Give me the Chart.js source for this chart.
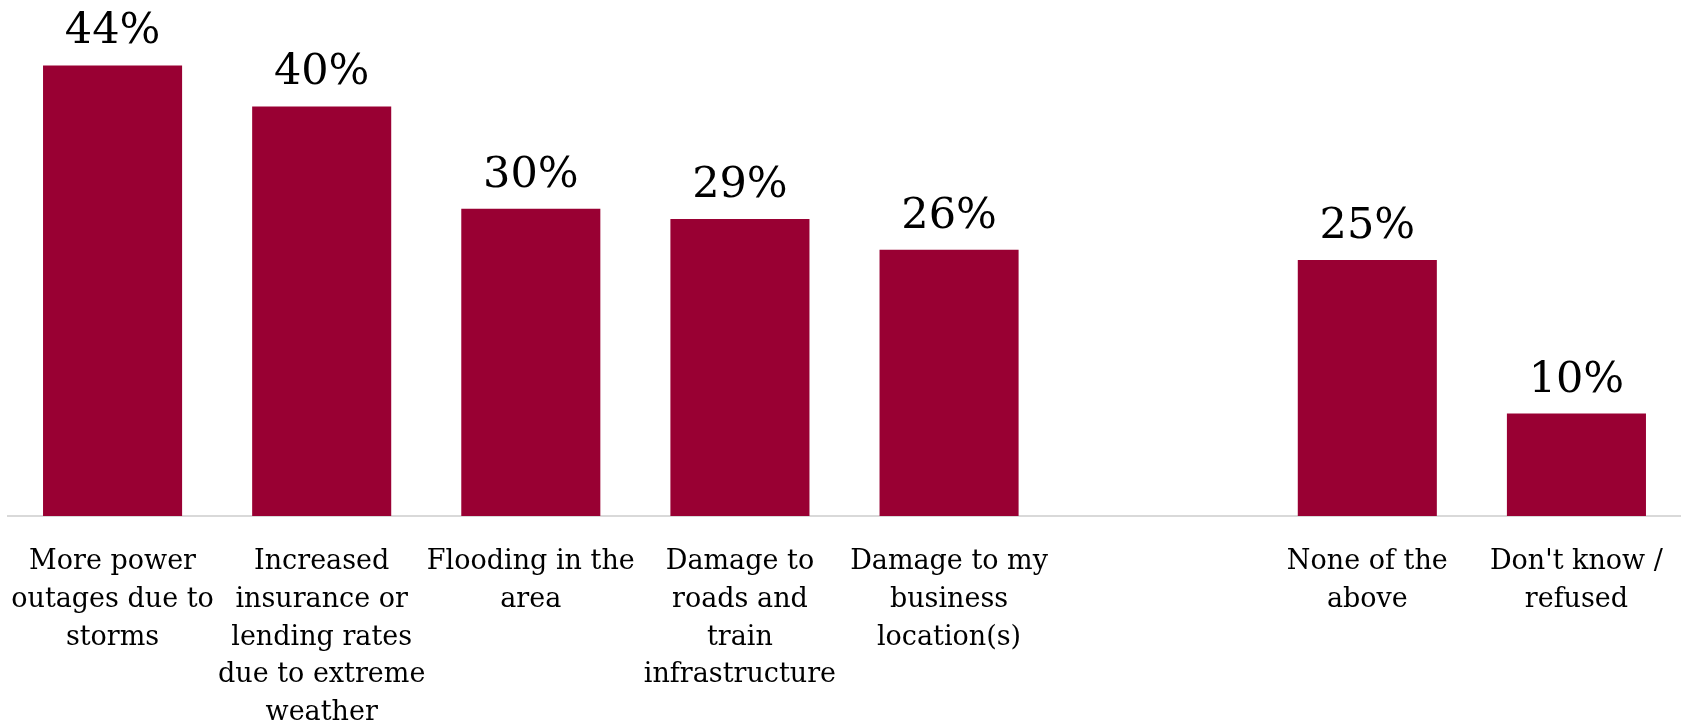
<!DOCTYPE html>
<html>
<head>
<meta charset="utf-8">
<script src="https://cdn.jsdelivr.net/npm/chart.js@4/dist/chart.umd.min.js"></script>
<style>
  html, body { margin: 0; padding: 0; background: #fff; }
  #wrap { width: 1681px; height: 721px; }
</style>
</head>
<body>
<div id="wrap"><canvas id="chart"></canvas></div>
<script>
// one empty slot separates the last two answers from the rest
const categories = [
  ['More power', 'outages due to', 'storms'],
  ['Increased', 'insurance or', 'lending rates', 'due to extreme', 'weather'],
  ['Flooding in the', 'area'],
  ['Damage to', 'roads and', 'train', 'infrastructure'],
  ['Damage to my', 'business', 'location(s)'],
  '',
  ['None of the', 'above'],
  ["Don't know /", 'refused']
];
const shares = [44, 40, 30, 29, 26, null, 25, 10];

const barColor = '#990033';
const serif = '"DejaVu Serif", "Liberation Serif", serif';

// prints the percentage above each bar
const valueLabels = {
  id: 'valueLabels',
  afterDatasetsDraw(chart) {
    const ctx = chart.ctx;
    const meta = chart.getDatasetMeta(0);
    ctx.save();
    ctx.font = '43px ' + serif;
    ctx.fillStyle = '#000';
    ctx.textAlign = 'center';
    ctx.textBaseline = 'alphabetic';
    meta.data.forEach((bar, i) => {
      const v = shares[i];
      if (v == null) return;
      ctx.fillText(v + '%', bar.x, bar.y - 22);
    });
    ctx.restore();
  }
};

new Chart(document.getElementById('chart'), {
  type: 'bar',
  data: {
    labels: categories,
    datasets: [{
      data: shares,
      backgroundColor: barColor,
      borderWidth: 0,
      categoryPercentage: 1,
      barPercentage: 0.665
    }]
  },
  options: {
    responsive: true,
    maintainAspectRatio: false,
    animation: false,
    layout: { padding: { left: 8, right: 0, top: 4, bottom: 0 } },
    plugins: {
      legend: { display: false },
      tooltip: { enabled: false }
    },
    scales: {
      x: {
        grid: { display: false, drawTicks: false },
        border: { display: true, color: '#d9d9d9', width: 2 },
        ticks: {
          color: '#000',
          font: { family: serif, size: 27, lineHeight: 1.4 },
          padding: 27,
          maxRotation: 0,
          autoSkip: false
        },
        afterFit(scale) {
          // labels may spill past the edges; keep the plot full width
          scale.height = 205;
          scale.paddingLeft = 0;
          scale.paddingRight = 0;
        }
      },
      y: {
        display: false,
        min: 0,
        max: 50
      }
    }
  },
  plugins: [valueLabels]
});
</script>
</body>
</html>
